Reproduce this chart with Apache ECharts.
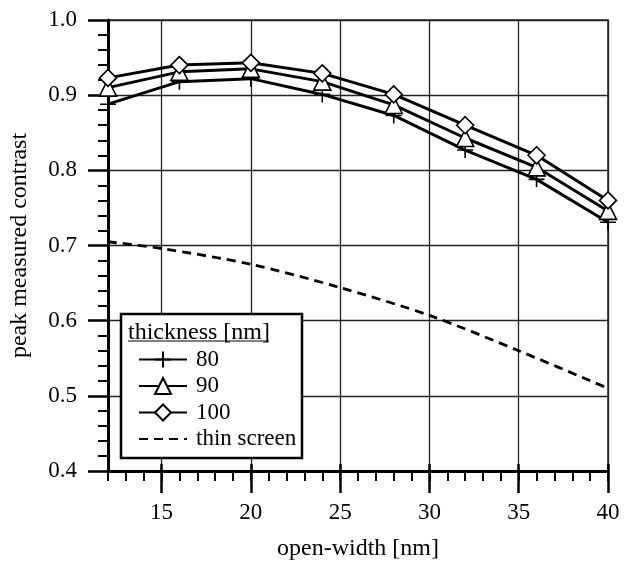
<!DOCTYPE html>
<html>
<head>
<meta charset="utf-8">
<script src="https://cdn.jsdelivr.net/npm/echarts@6/dist/echarts.min.js"></script>
<style>
  html, body { margin: 0; padding: 0; background: #fff; }
  #chart { width: 630px; height: 562px; }
</style>
</head>
<body>
<div id="chart"></div>
<script>
// open-width vs peak measured contrast
var widths = [12, 16, 20, 24, 28, 32, 36, 40];
var t80 = [0.888, 0.918, 0.922, 0.901, 0.873, 0.827, 0.788, 0.731];
var t90 = [0.910, 0.931, 0.935, 0.918, 0.887, 0.843, 0.804, 0.746];
var t100 = [0.923, 0.940, 0.943, 0.929, 0.901, 0.860, 0.820, 0.760];
var thinX = [12, 15, 20, 25, 30, 35, 40];
var thinY = [0.705, 0.696, 0.675, 0.644, 0.607, 0.560, 0.510];
var xMajor = [15, 20, 25, 30, 35, 40];
var legendNames = ['80', '90', '100', 'thin screen'];

(function() {
    var font = '"Liberation Serif", "Times New Roman", serif';
    var myChart = echarts.init(document.getElementById('chart'));

    function pairs(xs, ys) {
        return xs.map(function(x, i) { return [x, ys[i]]; });
    }

    function thickSeries(name, ys, symbol, size) {
        return {
            name: name,
            type: 'line',
            data: pairs(widths, ys),
            symbol: symbol,
            symbolSize: size,
            showSymbol: true,
            lineStyle: { color: '#000', width: 3 },
            itemStyle: { color: '#fff', borderColor: '#000', borderWidth: 1.6 },
            emphasis: { disabled: true },
            z: 2
        };
    }

    var legendData = legendNames.map(function(n) {
        if (n === 'thin screen') {
            return { name: n, itemStyle: { opacity: 0 } };
        }
        return { name: n };
    });

    var option = {
        animation: false,
        backgroundColor: '#fff',
        grid: {
            left: 108, right: 22, top: 20, bottom: 91,
            outerBoundsMode: 'none',
            containLabel: false,
            show: true, borderColor: '#222', borderWidth: 1.5,
            backgroundColor: 'transparent'
        },
        xAxis: [{
            type: 'value',
            min: 12, max: 40,
            name: 'open-width [nm]',
            nameLocation: 'middle',
            nameGap: 66,
            nameTextStyle: { fontFamily: font, fontSize: 24, color: '#000' },
            axisLine: { lineStyle: { color: '#000', width: 3 } },
            axisTick: { customValues: xMajor, length: 22, lineStyle: { color: '#000', width: 2.5 } },
            axisLabel: { customValues: xMajor, margin: 30, fontFamily: font, fontSize: 23, color: '#000' },
            splitLine: { show: true, lineStyle: { color: '#222', width: 1.3 } }
        }, {
            type: 'value',
            min: 12, max: 40, interval: 1,
            position: 'bottom',
            axisLine: { show: false },
            axisTick: { length: 10, lineStyle: { color: '#000', width: 2 } },
            axisLabel: { show: false },
            splitLine: { show: false }
        }, {
            type: 'value',
            min: 12, max: 40,
            position: 'bottom',
            axisLine: { show: false },
            axisTick: { customValues: xMajor, inside: true, length: 7, lineStyle: { color: '#000', width: 2.5 } },
            axisLabel: { show: false },
            splitLine: { show: false }
        }],
        yAxis: {
            type: 'value',
            min: 0.4, max: 1.0, interval: 0.1,
            name: 'peak measured contrast',
            nameLocation: 'middle',
            nameGap: 76,
            nameTextStyle: { fontFamily: font, fontSize: 24, color: '#000' },
            axisLine: { show: true, lineStyle: { color: '#000', width: 3 } },
            axisTick: { show: true, length: 20, lineStyle: { color: '#000', width: 2.5 } },
            minorTick: { show: true, splitNumber: 5, length: 10, lineStyle: { color: '#000', width: 2 } },
            axisLabel: {
                margin: 31, fontFamily: font, fontSize: 23, color: '#000',
                formatter: function(v) { return v.toFixed(1); }
            },
            splitLine: { show: true, lineStyle: { color: '#222', width: 1.3 } }
        },
        legend: {
            data: legendData,
            orient: 'vertical',
            left: 121, top: 314,
            padding: [34, 10, 8, 17],
            itemWidth: 48,
            itemHeight: 20,
            itemGap: 3.5,
            selectedMode: false,
            textStyle: { fontFamily: font, fontSize: 23, lineHeight: 22, color: '#000', padding: [0, 0, 0, 4] },
            z: 6
        },
        graphic: [{
            type: 'rect',
            shape: { x: 121, y: 314, width: 181, height: 144 },
            style: { fill: '#fff', stroke: '#000', lineWidth: 2.5 },
            z: 5
        }, {
            type: 'text',
            x: 128, y: 321,
            style: { text: 'thickness [nm]', font: '24px ' + font, fill: '#000' },
            z: 7
        }, {
            type: 'line',
            shape: { x1: 128, y1: 341, x2: 269, y2: 341 },
            style: { stroke: '#000', lineWidth: 1.2 },
            z: 7
        }],
        series: [
            thickSeries('80', t80, 'path://M10,0L10,20M0,10L20,10', 16),
            thickSeries('90', t90, 'triangle', 17),
            thickSeries('100', t100, 'diamond', 17),
            {
                name: 'thin screen',
                type: 'line',
                data: pairs(thinX, thinY),
                smooth: 0.3,
                symbol: 'none',
                lineStyle: { color: '#000', width: 2.8, type: [9, 6] },
                itemStyle: { color: '#000' },
                emphasis: { disabled: true },
                z: 2
            }
        ]
    };

    myChart.setOption(option);

    window.addEventListener('resize', function() {
        myChart.resize();
    });
})();
</script>
</body>
</html>
